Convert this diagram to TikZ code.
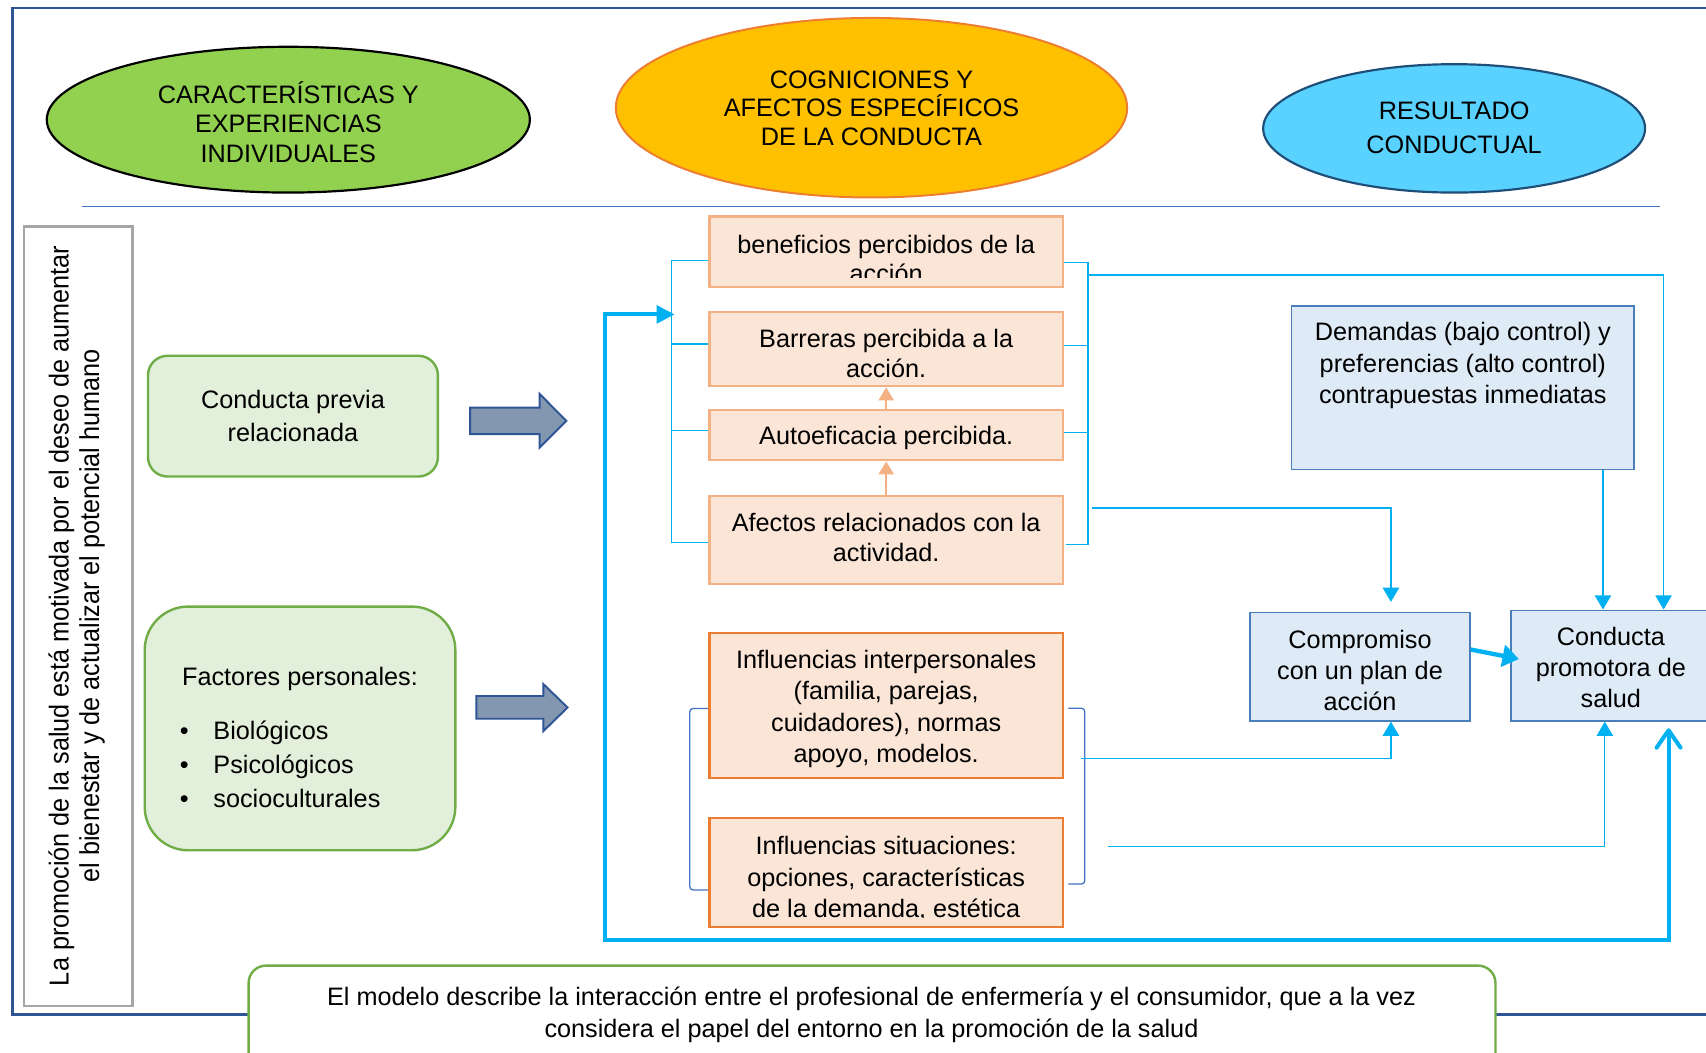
\documentclass[tikz,border=0pt]{standalone}
\usepackage{fontspec}
\setmainfont{Liberation Sans}
\newfontfamily\narrowsans[FakeStretch=0.92]{Liberation Sans}
\usetikzlibrary{arrows.meta,shapes.geometric,calc}
\definecolor{frameblue}{HTML}{2F5597}
\definecolor{sepblue}{HTML}{4472C4}
\definecolor{egreen}{HTML}{92D050}
\definecolor{egold}{HTML}{FFC000}
\definecolor{eorange}{HTML}{ED7D31}
\definecolor{ecyan}{HTML}{5AD2FF}
\definecolor{edark}{HTML}{1F4E79}
\definecolor{lgreen}{HTML}{E2EFDA}
\definecolor{mgreen}{HTML}{70AD47}
\definecolor{peach}{HTML}{FBE5D6}
\definecolor{peachline}{HTML}{F4B183}
\definecolor{lblue}{HTML}{DEEBF7}
\definecolor{boxblue}{HTML}{4A7EBB}
\definecolor{cyanline}{HTML}{00B0F0}
\definecolor{arrowfill}{HTML}{8497B0}
\definecolor{graybox}{HTML}{A6A6A6}
\begin{document}
\begin{tikzpicture}[x=0.5pt,y=-0.5pt,
  txt/.style={font=\fontsize{11.6pt}{13.5pt}\selectfont, align=center, inner sep=0pt},
  ell/.style={ellipse, inner sep=0pt, align=center},
  obox/.style={rectangle, fill=peach, draw=peachline, line width=1.1pt, minimum width=162.5pt, inner sep=0pt, align=center},
  dobox/.style={obox, draw=eorange},
  bbox/.style={rectangle, fill=lblue, draw=boxblue, line width=0.8pt, inner sep=0pt, align=center},
  gbox/.style={rectangle, rounded corners=9pt, fill=lgreen, draw=mgreen, line width=1.1pt, inner sep=0pt, align=center},
  blockarrow/.style={fill=arrowfill, draw=frameblue, line width=0.9pt, line join=miter},
  cline/.style={draw=cyanline, line width=0.6pt},
  carrow/.style={cline, -{Triangle[length=6.5pt,width=7.5pt]}},
  bracketline/.style={draw=sepblue, line width=0.6pt, rounded corners=1.5pt},
  oarrow/.style={draw=peachline, line width=0.9pt, -{Triangle[length=6pt,width=7pt]}},
  loopline/.style={draw=cyanline, line width=1.85pt, line join=miter},
]
\useasboundingbox (0,0) rectangle (1568,967);
\fill[white] (0,0) rectangle (1568,967);
\clip (0,0) rectangle (1568,967);

% outer frame and separator
\draw[frameblue, line width=1pt] (11.5,7.5) rectangle (1640,932.5);
\draw[sepblue, line width=0.6pt] (75,190) -- (1526,190);

% header ellipses
\node[ell, fill=egreen, draw=black, line width=1pt, minimum width=222pt, minimum height=67pt] (e1) at (265,110) {};
\node[txt] (e1t) at (265,112) {CARACTERÍSTICAS Y\\EXPERIENCIAS\\INDIVIDUALES};
\node[ell, fill=egold, draw=eorange, line width=0.9pt, minimum width=235pt, minimum height=82.5pt] (e2) at (801,99) {};
\node[txt, font=\fontsize{11.6pt}{13.2pt}\selectfont] (e2t) at (801,99.5) {COGNICIONES Y\\AFECTOS ESPECÍFICOS\\DE LA CONDUCTA};
\node[ell, fill=ecyan, draw=edark, line width=1pt, minimum width=175.5pt, minimum height=59pt] (e3) at (1336.5,118) {};
\node[txt, font=\fontsize{11.6pt}{15.5pt}\selectfont] (e3t) at (1336.5,117.5) {RESULTADO\\CONDUCTUAL};

% left vertical box
\node[rectangle, draw=graybox, fill=white, line width=1.2pt, minimum width=49.75pt, minimum height=358.25pt, inner sep=0pt] (lbox) at (71.75,566.25) {};
\node[rotate=90, align=center, inner sep=0pt, font=\narrowsans\fontsize{12.6pt}{14pt}\selectfont] (ltext) at (70.4,566)
  {La promoción de la salud está motivada por el deseo de aumentar\\el bienestar y de actualizar el potencial humano};

% green boxes
\node[gbox, txt, font=\fontsize{11.6pt}{15pt}\selectfont, minimum width=133.25pt, minimum height=55.5pt] (cprev) at (269.25,382.5)
  {Conducta previa\\relacionada};
\node[gbox, rounded corners=20pt, minimum width=142.75pt, minimum height=112pt] (fact) at (275.75,669.5) {};
\node[txt, anchor=base west] (fp) at (167,630) {Factores personales:};
\node[txt, anchor=base west] (b1) at (165,680) {\makebox[15.4pt][l]{\textbullet}Biológicos};
\node[txt, anchor=base west] (b2) at (165,711) {\makebox[15.4pt][l]{\textbullet}Psicológicos};
\node[txt, anchor=base west] (b3) at (165,742) {\makebox[15.4pt][l]{\textbullet}socioculturales};

% block arrows
\draw[blockarrow] (432,374.6) -- (495.9,374.6) -- (495.9,362) -- (520.5,386.8) -- (495.9,411.5) -- (495.9,399) -- (432,399) -- cycle;
\draw[blockarrow] (437.9,639.7) -- (499.4,639.7) -- (499.4,628.7) -- (521.6,650.3) -- (499.4,672) -- (499.4,660.6) -- (437.9,660.6) -- cycle;

% orange boxes
\node[obox, minimum height=32.5pt] (benef) at (814.5,231.5) {};
\begin{scope}
  \clip (652,200) rectangle (977,255.5);
  \node[txt, font=\fontsize{11.6pt}{13pt}\selectfont] (beneft) at (814.5,238) {beneficios percibidos de la\\acción};
\end{scope}
\node[obox, minimum height=34pt] (barr) at (814.5,321) {};
\node[txt] (barrt) at (814.5,325) {Barreras percibida a la\\acción.};
\node[obox, minimum height=23pt] (auto) at (814.5,400) {};
\node[txt] (autot) at (814.5,403) {Autoeficacia percibida.};
\node[obox, minimum height=40.5pt] (afect) at (814.5,496.5) {};
\node[txt] (afectt) at (814.5,494) {Afectos relacionados con la\\actividad.};
\node[dobox, minimum height=66.5pt] (inter) at (814.5,648.5) {};
\node[txt, font=\fontsize{11.6pt}{14.4pt}\selectfont] (intert) at (814.5,651.5)
  {Influencias interpersonales\\(familia, parejas,\\cuidadores), normas\\apoyo, modelos.};
\node[dobox, minimum height=50pt] (situ) at (814.5,802) {};
\begin{scope}
  \clip (652,752) rectangle (977,843);
  \node[txt, font=\fontsize{11.6pt}{14.5pt}\selectfont] (situt) at (814.5,807.5)
    {Influencias situaciones:\\opciones, características\\de la demanda, estética};
\end{scope}

\draw[oarrow] (auto.north) -- (barr.south);
\draw[oarrow] (afect.north) -- (auto.south);

% blue boxes
\node[bbox, minimum width=157.5pt, minimum height=75.25pt] (dem) at (1344.5,356.25) {};
\node[txt, font=\fontsize{11.6pt}{14.5pt}\selectfont, anchor=north] (demt) at (1344.5,296)
  {Demandas (bajo control) y\\preferencias (alto control)\\contrapuestas inmediatas};
\node[bbox, minimum width=101pt, minimum height=49.75pt] (comp) at (1250,612.75) {};
\node[txt, font=\fontsize{11.6pt}{14.25pt}\selectfont] (compt) at (1250,616.5) {Compromiso\\con un plan de\\acción};
\node[bbox, minimum width=91.5pt, minimum height=50.75pt] (cps) at (1480.5,611.75) {};
\node[txt, font=\fontsize{11.6pt}{14.25pt}\selectfont] (cpst) at (1480.5,613.5) {Conducta\\promotora de\\salud};

% brackets around upper boxes
\draw[cline] (benef.west |- 0,239.5) -- (617,239.5) -- (617,498.7) -- (afect.west |- 0,498.7);
\draw[cline] (617,316.3) -- (barr.west |- 0,316.3);
\draw[cline] (617,395.4) -- (auto.west |- 0,395.4);
\draw[cline] (benef.east |- 0,241.2) -- (1000,241.2) -- (1000,500.5) -- (980,500.5);
\draw[cline] (barr.east |- 0,317.8) -- (1000,317.8);
\draw[cline] (auto.east |- 0,397.5) -- (1000,397.5);

% connectors to outcome
\coordinate (rb) at (1000,252.7);
\draw[carrow] (rb) -- (1529,252.7) -- (1529,0 |- cps.north);
\coordinate (af) at (1003.5,467);
\draw[carrow] (af) -- (1278.4,467) -- ($(1278.4,0 |- comp.north)+(0,-9)$);
\draw[carrow] (1473.3,0 |- dem.south) -- (1473.3,0 |- cps.north);
\draw[draw=cyanline, line width=2pt, -{Triangle[length=7.5pt,width=10pt]}] (comp.east |- 0,597) -- (1396,605.7);

% brackets around influences
\draw[bracketline] (inter.west |- 0,651.2) -- (634,651.2) -- (634,818) -- (situ.west |- 0,818);
\draw[bracketline] (982,651) -- (997,651) -- (997,812.5) -- (982,812.5);
\coordinate (ib) at (994,697);
\draw[carrow] (ib) -- (1278.4,697) -- (1278.4,0 |- comp.south);
\coordinate (sb) at (1018.4,778);
\draw[carrow] (sb) -- (1475,778) -- (1475,0 |- cps.south);

% thick feedback loop
\coordinate (lb) at (620,289);
\draw[loopline, {Triangle[length=8.2pt,width=8pt]}-{Straight Barb[length=8pt,width=11pt,round]}]
  (lb) -- (556,289) -- (556,864) -- (1533.6,864) -- ($(1533.6,0 |- cps.south)+(0,6)$);

% bottom note
\node[rectangle, rounded corners=8pt, draw=mgreen, fill=white, line width=1.1pt, minimum width=573pt, minimum height=56.25pt, inner sep=0pt] (note) at (801.5,943.75) {};
\node[txt, font=\fontsize{11.6pt}{14.5pt}\selectfont] (notet) at (801,932.5)
  {El modelo describe la interacción entre el profesional de enfermería y el consumidor, que a la vez\\considera el papel del entorno en la promoción de la salud};
\end{tikzpicture}
\end{document}
